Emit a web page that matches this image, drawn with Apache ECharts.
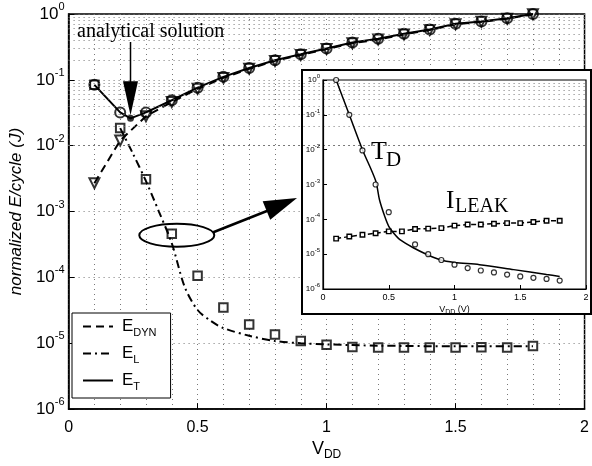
<!DOCTYPE html>
<html>
<head>
<meta charset="utf-8">
<title>normalized E/cycle vs VDD</title>
<script src="https://cdn.jsdelivr.net/npm/echarts@6/dist/echarts.min.js"></script>
<style>
html, body { margin: 0; padding: 0; background: #fff; }
#main { width: 592px; height: 466px; }
</style>
</head>
<body>
<div id="main"></div>
<script>
// ---- main plot data ----
var vdd = [0.1, 0.2, 0.3, 0.4, 0.5, 0.6, 0.7, 0.8, 0.9, 1.0, 1.1, 1.2, 1.3, 1.4, 1.5, 1.6, 1.7, 1.8];
var eTotal = [0.084, 0.032, 0.032, 0.049, 0.076, 0.111, 0.151, 0.199, 0.244, 0.30, 0.369, 0.42, 0.50, 0.58, 0.71, 0.77, 0.86, 1.0];
var eDyn = [0.0027, 0.012, 0.028, 0.046, 0.073, 0.107, 0.147, 0.194, 0.238, 0.293, 0.36, 0.41, 0.49, 0.57, 0.70, 0.76, 0.85, 0.99];
var eLeakPts = [0.084, 0.0185, 0.0031, 4.6e-4, 1.06e-4, 3.5e-5, 1.92e-5, 1.36e-5, 1.08e-5, 9.5e-6, 8.8e-6, 8.6e-6, 8.6e-6, 8.6e-6, 8.6e-6, 8.7e-6, 8.6e-6, 9.1e-6];
// E_T solid curve (dips through the analytical optimum)
var eTotalCurveX = [0.1, 0.2, 0.24, 0.3, 0.4, 0.5, 0.6, 0.7, 0.8, 0.9, 1.0, 1.1, 1.2, 1.3, 1.4, 1.5, 1.6, 1.7, 1.8];
var eTotalCurveY = [0.084, 0.032, 0.026, 0.032, 0.049, 0.076, 0.111, 0.151, 0.199, 0.244, 0.30, 0.369, 0.42, 0.50, 0.58, 0.71, 0.77, 0.86, 1.0];
// E_L model curve (dash-dot)
var eLeakCurveX = [0.2, 0.25, 0.3, 0.35, 0.4, 0.45, 0.5, 0.55, 0.6, 0.7, 0.8, 0.9, 1.0, 1.2, 1.5, 1.8];
var eLeakCurveY = [0.0185, 0.0075, 0.0029, 1.0e-3, 3.3e-4, 7.2e-5, 3.2e-5, 2.2e-5, 1.7e-5, 1.3e-5, 1.08e-5, 1.0e-5, 9.6e-6, 9.2e-6, 9.0e-6, 9.0e-6];
// analytical optimum
var optPoint = [0.24, 0.026];

// ---- inset data ----
var tdX = [0.1, 0.2, 0.3, 0.4, 0.5, 0.7, 0.8, 0.9, 1.0, 1.1, 1.2, 1.3, 1.4, 1.5, 1.6, 1.7, 1.8];
var tdY = [1.0, 0.1, 0.0095, 1.0e-3, 1.6e-4, 1.9e-5, 1.0e-5, 6.8e-6, 5.0e-6, 4.0e-6, 3.4e-6, 3.0e-6, 2.6e-6, 2.3e-6, 2.1e-6, 1.95e-6, 1.74e-6];
var tdCurveX = [0.1, 0.2, 0.3, 0.4, 0.43, 0.47, 0.5, 0.535, 0.585, 0.69, 0.79, 0.89, 1.0, 1.19, 1.45, 1.7, 1.8];
var tdCurveY = [1.0, 0.1, 0.01, 1.3e-3, 3.6e-4, 1.2e-4, 6.3e-5, 4.1e-5, 2.6e-5, 1.5e-5, 9.8e-6, 6.9e-6, 5.8e-6, 5.0e-6, 3.6e-6, 2.6e-6, 2.3e-6];
var leakY = [2.8e-5, 3.2e-5, 3.6e-5, 4.0e-5, 4.5e-5, 4.5e-5, 5.3e-5, 5.4e-5, 5.6e-5, 6.6e-5, 7.1e-5, 7.1e-5, 7.5e-5, 7.8e-5, 7.8e-5, 8.4e-5, 9.1e-5, 9.1e-5];

var legendNames = ['E_DYN', 'E_L', 'E_T'];
var minorMantissa = [2, 3, 4, 5, 6, 7, 8, 9];
var decades = [-6, -5, -4, -3, -2, -1];

function pairs(xs, ys) {
    return xs.map(function (x, i) { return [x, ys[i]]; });
}
function expLabel(v) {
    return '{b|10}{e|' + Math.round(Math.log10(v)) + '}';
}

// dotted minor log grid lines (2..9 in each decade)
var minorLines = [];
decades.forEach(function (k) {
    minorMantissa.forEach(function (m) {
        minorLines.push({ yAxis: m * Math.pow(10, k) });
    });
});

var dotted = { color: '#777', width: 1, type: [1, 4] };
var SANS = 'Liberation Sans, Arial, sans-serif';
var SERIF = 'Liberation Serif, Times New Roman, serif';

var chart = echarts.init(document.getElementById('main'));

var option = {
    animation: false,
    backgroundColor: '#fff',
    textStyle: { fontFamily: SANS, color: '#000' },
    grid: [{
        left: 67, top: 14, right: 5, bottom: 50,
        show: true, borderColor: '#000', borderWidth: 1.5, backgroundColor: 'transparent'
    }, {
        left: 323, top: 80, width: 263, height: 209, z: 4,
        show: true, borderColor: '#000', borderWidth: 1.2, backgroundColor: '#fff'
    }],
    legend: {
        data: legendNames,
        orient: 'vertical',
        left: 72, top: 313,
        padding: [5, 14, 6, 10],
        itemGap: 7,
        itemWidth: 30, itemHeight: 14,
        backgroundColor: '#fff',
        borderColor: '#000', borderWidth: 1,
        z: 6,
        selectedMode: false,
        itemStyle: { opacity: 0 },
        formatter: function (name) {
            var p = name.split('_');
            return '{m|' + p[0] + '}{s|' + p[1] + '}';
        },
        textStyle: {
            padding: [0, 0, 0, 4],
            rich: {
                m: { fontSize: 17, fontFamily: SANS, color: '#000' },
                s: { fontSize: 11, fontFamily: SANS, color: '#000', padding: [12, 0, 0, 0] }
            }
        }
    },
    xAxis: [{
        gridIndex: 0, type: 'value', min: 0, max: 2, interval: 0.5,
        axisLine: { show: true, lineStyle: { color: '#000', width: 1.5 } },
        axisTick: { inside: true, length: 6, lineStyle: { color: '#000' } },
        axisLabel: { fontSize: 16, color: '#000', margin: 10 },
        splitLine: { show: true, lineStyle: dotted },
        minorTick: { show: false, splitNumber: 5 },
        minorSplitLine: { show: true, lineStyle: dotted },
        name: '{v|V}{s|DD}', nameLocation: 'middle', nameGap: 26,
        nameTextStyle: {
            rich: {
                v: { fontSize: 18, fontFamily: SANS, color: '#000' },
                s: { fontSize: 12, fontFamily: SANS, color: '#000', padding: [12, 0, 0, 0] }
            }
        }
    }, {
        gridIndex: 1, type: 'value', min: 0, max: 2, interval: 0.5, z: 5,
        axisLine: { show: true, lineStyle: { color: '#000', width: 1.2 } },
        axisTick: { inside: true, length: 4, lineStyle: { color: '#000' } },
        axisLabel: { fontSize: 9, color: '#000', margin: 4 },
        splitLine: { show: false },
        name: '{v|V}{s|DD}{u| (V)}', nameLocation: 'middle', nameGap: 14,
        nameTextStyle: {
            rich: {
                v: { fontSize: 9, fontFamily: SANS, color: '#000' },
                s: { fontSize: 7, fontFamily: SANS, color: '#000', padding: [6, 0, 0, 0] },
                u: { fontSize: 9, fontFamily: SANS, color: '#000' }
            }
        }
    }],
    yAxis: [{
        gridIndex: 0, type: 'log', logBase: 10, min: 1e-6, max: 1, splitNumber: 6,
        axisLine: { show: true, lineStyle: { color: '#000', width: 1.5 } },
        axisTick: { inside: true, length: 6, lineStyle: { color: '#000' } },
        axisLabel: {
            margin: 4, formatter: expLabel,
            rich: {
                b: { fontSize: 17, fontFamily: SANS, color: '#000' },
                e: { fontSize: 11, fontFamily: SANS, color: '#000', padding: [0, 0, 14, 0] }
            }
        },
        splitLine: { show: true, lineStyle: dotted },
        name: 'normalized E/cycle (J)', nameLocation: 'middle', nameRotate: 90, nameGap: 42,
        nameTextStyle: { fontSize: 17, fontStyle: 'italic', fontFamily: SANS, color: '#000' }
    }, {
        gridIndex: 1, type: 'log', logBase: 10, min: 1e-6, max: 1, splitNumber: 6, z: 5,
        axisLine: { show: true, lineStyle: { color: '#000', width: 1.2 } },
        axisTick: { inside: true, length: 4, lineStyle: { color: '#000' } },
        axisLabel: {
            margin: 3, formatter: expLabel,
            rich: {
                b: { fontSize: 8, fontFamily: SANS, color: '#000' },
                e: { fontSize: 6, fontFamily: SANS, color: '#000', padding: [0, 0, 7, 0] }
            }
        },
        splitLine: { show: false }
    }],
    series: [{
        name: 'minor grid', type: 'line', xAxisIndex: 0, yAxisIndex: 0, data: [],
        silent: true,
        markLine: {
            silent: true, symbol: ['none', 'none'], label: { show: false },
            lineStyle: dotted, animation: false,
            data: minorLines
        }
    }, {
        name: 'E_DYN', type: 'line', xAxisIndex: 0, yAxisIndex: 0,
        data: pairs(vdd, eDyn), symbol: 'none', color: '#000',
        lineStyle: { color: '#000', width: 2, type: [8, 5] }
    }, {
        name: 'E_L', type: 'line', xAxisIndex: 0, yAxisIndex: 0,
        data: pairs(eLeakCurveX, eLeakCurveY), symbol: 'none', smooth: 0.3, color: '#000',
        lineStyle: { color: '#000', width: 2, type: [8, 4, 2, 4] }
    }, {
        name: 'E_T', type: 'line', xAxisIndex: 0, yAxisIndex: 0,
        data: pairs(eTotalCurveX, eTotalCurveY), symbol: 'none', color: '#000',
        lineStyle: { color: '#000', width: 2 }
    }, {
        name: 'E_L sim', type: 'scatter', xAxisIndex: 0, yAxisIndex: 0,
        data: pairs(vdd, eLeakPts), symbol: 'rect', symbolSize: 8.5,
        itemStyle: { color: '#fff', borderColor: '#000', borderWidth: 2 }
    }, {
        name: 'E_DYN sim', type: 'scatter', xAxisIndex: 0, yAxisIndex: 0,
        data: pairs(vdd, eDyn), symbol: 'triangle', symbolRotate: 180, symbolSize: 10,
        itemStyle: { color: '#fff', borderColor: '#000', borderWidth: 2 }
    }, {
        name: 'E_T sim', type: 'scatter', xAxisIndex: 0, yAxisIndex: 0,
        data: pairs(vdd, eTotal), symbol: 'circle', symbolSize: 10,
        itemStyle: { color: 'rgba(255,255,255,0)', borderColor: '#000', borderWidth: 2 }
    }, {
        name: 'analytical', type: 'scatter', xAxisIndex: 0, yAxisIndex: 0,
        data: [optPoint], symbol: 'circle', symbolSize: 7,
        itemStyle: { color: '#000' }
    }, {
        name: 'T_D fit', type: 'line', xAxisIndex: 1, yAxisIndex: 1, z: 6,
        data: pairs(tdCurveX, tdCurveY), symbol: 'none', smooth: 0.3,
        lineStyle: { color: '#000', width: 1.5 }
    }, {
        name: 'T_D', type: 'scatter', xAxisIndex: 1, yAxisIndex: 1, z: 7,
        data: pairs(tdX, tdY), symbol: 'circle', symbolSize: 5,
        itemStyle: { color: '#fff', borderColor: '#000', borderWidth: 1.2 }
    }, {
        name: 'I_LEAK', type: 'line', xAxisIndex: 1, yAxisIndex: 1, z: 6,
        data: pairs(vdd, leakY), symbol: 'rect', symbolSize: 4.5,
        itemStyle: { color: '#fff', borderColor: '#000', borderWidth: 1.4 },
        lineStyle: { color: '#000', width: 1.5, type: [5, 3] }
    }]
};
chart.setOption(option);

// ---- annotations: arrows, ellipse, labels, inset frame ----
function arrowHead(from, to, len, wid) {
    var dx = to[0] - from[0], dy = to[1] - from[1];
    var d = Math.sqrt(dx * dx + dy * dy);
    var ux = dx / d, uy = dy / d;
    var bx = to[0] - ux * len, by = to[1] - uy * len;
    return [to, [bx - uy * wid / 2, by + ux * wid / 2], [bx + uy * wid / 2, by - ux * wid / 2]];
}

var optPx = chart.convertToPixel({ gridIndex: 0 }, optPoint);
var circled = chart.convertToPixel({ gridIndex: 0 }, [vdd[3], eLeakPts[3]]);
var ell = { cx: circled[0] + 5, cy: circled[1] + 1.5, rx: 37.5, ry: 11.5 };

var a1From = [optPx[0], 42];
var a1Tip = [optPx[0], optPx[1] - 3];
var a2From = [ell.cx + ell.rx - 1, ell.cy - 3];
var a2Tip = [297, 198];

chart.setOption({
    graphic: [{
        type: 'rect', z: 3, silent: true,
        shape: { x: 302, y: 70, width: 289, height: 244 },
        style: { fill: '#fff', stroke: '#000', lineWidth: 2 }
    }, {
        type: 'text', z: 8, silent: true, x: 77, y: 22,
        style: { text: 'analytical solution', font: '20px ' + SERIF, fill: '#000' }
    }, {
        type: 'line', z: 8, silent: true,
        shape: { x1: a1From[0], y1: a1From[1], x2: a1Tip[0], y2: a1Tip[1] - 30 },
        style: { stroke: '#000', lineWidth: 1.5 }
    }, {
        type: 'polygon', z: 8, silent: true,
        shape: { points: arrowHead(a1From, a1Tip, 34, 15) },
        style: { fill: '#000' }
    }, {
        type: 'ellipse', z: 8, silent: true,
        shape: ell,
        style: { fill: 'none', stroke: '#000', lineWidth: 2 }
    }, {
        type: 'line', z: 8, silent: true,
        shape: { x1: a2From[0], y1: a2From[1], x2: a2Tip[0] - 20, y2: a2Tip[1] + 9 },
        style: { stroke: '#000', lineWidth: 2.5 }
    }, {
        type: 'polygon', z: 8, silent: true,
        shape: { points: arrowHead(a2From, a2Tip, 33, 20) },
        style: { fill: '#000' }
    }, {
        type: 'text', z: 8, silent: true, x: 371, y: 139,
        style: { text: 'T', font: '26px ' + SERIF, fill: '#000' }
    }, {
        type: 'text', z: 8, silent: true, x: 386, y: 150,
        style: { text: 'D', font: '21px ' + SERIF, fill: '#000' }
    }, {
        type: 'text', z: 8, silent: true, x: 446, y: 189,
        style: { text: 'I', font: '25px ' + SERIF, fill: '#000' }
    }, {
        type: 'text', z: 8, silent: true, x: 455, y: 197,
        style: { text: 'LEAK', font: '20px ' + SERIF, fill: '#000' }
    }]
});
</script>
</body>
</html>
